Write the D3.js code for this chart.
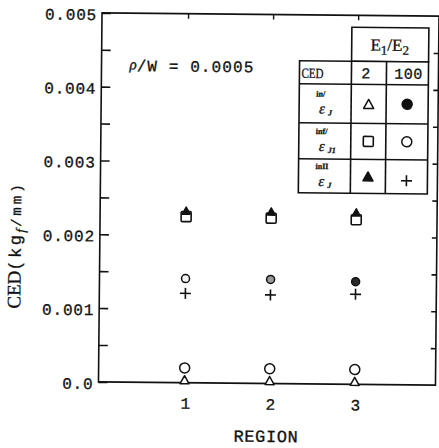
<!DOCTYPE html>
<html>
<head>
<meta charset="utf-8">
<script src="https://cdn.jsdelivr.net/npm/d3@7"></script>
<style>
  html, body { margin: 0; padding: 0; background: #fff; }
  svg { display: block; }
  .mono { font-family: "Liberation Mono", "DejaVu Sans Mono", monospace; }
  .serif { font-family: "Liberation Serif", "DejaVu Serif", serif; }
  text { fill: #111; stroke: #111; stroke-width: 0.3px; }
</style>
</head>
<body>
<svg id="chart" width="439" height="448"></svg>
<script>
// Crack energy density per region, rho/W = 0.0005
const regions = [1, 2, 3];
const yTickValues = [0, 0.001, 0.002, 0.003, 0.004, 0.005];
const yTickLabels = ["0.0", "0.001", "0.002", "0.003", "0.004", "0.005"];
const ratioLabels = ["2", "100"];

// E1/E2 = 2
const inJ_2 = [0.00004, 0.00004, 0.00004];      // open triangle
const infJ1_2 = [0.00225, 0.00224, 0.00223];    // open square
const inIIJ_2 = [0.00233, 0.00233, 0.00233];    // filled triangle
// E1/E2 = 100
const inJ_100 = [0.00141, 0.00141, 0.00139];    // filled circle
const infJ1_100 = [0.0002, 0.0002, 0.0002];     // open circle
const inIIJ_100 = [0.00121, 0.0012, 0.00122];   // plus

// print density of the filled circles as they came out on paper
const dotShade = ["#f4f4f4", "#9a9a9a", "#2a2a2a"];

const svg = d3.select("#chart");
const W = 439, H = 448;
const plotL = 100, plotR = 437, plotT = 14, plotB = 383;

const root = svg.append("g")
  .attr("transform", `rotate(0.55 ${W / 2} ${H / 2})`);

const x = d3.scaleLinear().domain([0, 3.95]).range([plotL + 1, plotR]);
const y = d3.scaleLinear().domain([0, 0.005]).range([plotB, plotT]);

const ink = "#111";

// frame
root.append("rect")
  .attr("x", plotL).attr("y", plotT)
  .attr("width", plotR - plotL).attr("height", plotB - plotT)
  .attr("fill", "none").attr("stroke", ink).attr("stroke-width", 1.6);

// left axis: ticks every 0.0005 pointing in
const yAxisL = d3.axisRight(y)
  .tickValues(d3.range(0, 0.00501, 0.0005))
  .tickSize(9).tickFormat("");
root.append("g").attr("transform", `translate(${plotL},0)`).call(yAxisL)
  .call(g => g.select(".domain").remove())
  .call(g => g.selectAll("line").attr("stroke", ink).attr("stroke-width", 1.6));

// right axis: short inward ticks
const yAxisR = d3.axisLeft(y)
  .tickValues(d3.range(0.0005, 0.0046, 0.0005))
  .tickSize(5).tickFormat("");
root.append("g").attr("transform", `translate(${plotR},0)`).call(yAxisR)
  .call(g => g.select(".domain").remove())
  .call(g => g.selectAll("line").attr("stroke", ink).attr("stroke-width", 1.6));

// top axis: ticks at each region
const xAxisT = d3.axisBottom(x).tickValues(regions).tickSize(5).tickFormat("");
root.append("g").attr("transform", `translate(0,${plotT})`).call(xAxisT)
  .call(g => g.select(".domain").remove())
  .call(g => g.selectAll("line").attr("stroke", ink).attr("stroke-width", 1.4));

// y tick labels
root.append("g").selectAll("text").data(yTickValues).join("text")
  .attr("class", "mono")
  .attr("x", plotL - 5).attr("y", d => y(d) + 3)
  .attr("text-anchor", "end").attr("dominant-baseline", "middle")
  .attr("font-size", 16).attr("letter-spacing", 0.8)
  .text((d, i) => yTickLabels[i]);

// x tick labels
root.append("g").selectAll("text").data(regions).join("text")
  .attr("class", "mono")
  .attr("x", d => x(d) + 1).attr("y", plotB + 22)
  .attr("text-anchor", "middle").attr("dominant-baseline", "middle")
  .attr("font-size", 16)
  .text(d => d);

// axis titles
root.append("text").attr("class", "mono")
  .attr("x", 268).attr("y", 437)
  .attr("text-anchor", "middle").attr("dominant-baseline", "middle")
  .attr("font-size", 17).attr("letter-spacing", 0.6)
  .text("REGION");

const yTitle = root.append("text")
  .attr("transform", "translate(21,247) rotate(-90)")
  .attr("text-anchor", "middle");
yTitle.append("tspan").attr("class", "serif").attr("font-size", 19).text("CED");
yTitle.append("tspan").attr("class", "mono").attr("font-size", 17)
  .attr("letter-spacing", 2.5).text("(kg");
yTitle.append("tspan").attr("class", "serif").attr("font-style", "italic")
  .attr("font-size", 13).attr("dy", 4).text("f");
yTitle.append("tspan").attr("class", "mono").attr("font-size", 14)
  .attr("letter-spacing", 3).attr("dx", 2).attr("dy", -4).text("/mm)");

// annotation
const note = root.append("text").attr("x", 128).attr("y", 72);
note.append("tspan").attr("class", "serif").attr("font-style", "italic")
  .attr("font-size", 15).attr("dy", -2).text("ρ");
note.append("tspan").attr("class", "mono").attr("font-size", 16)
  .attr("letter-spacing", 1.1).attr("dy", 2).text("/W = 0.0005");

// marker painters
function triangle(g, cx, cy, s, filled) {
  const h = s * 0.9;
  g.append("path")
    .attr("d", `M${cx},${cy - h / 2}L${cx + s / 2},${cy + h / 2}L${cx - s / 2},${cy + h / 2}Z`)
    .attr("fill", filled ? ink : "#fff").attr("stroke", ink).attr("stroke-width", 1.5)
    .attr("stroke-linejoin", "round");
}
function square(g, cx, cy, s) {
  g.append("rect").attr("x", cx - s / 2).attr("y", cy - s / 2)
    .attr("width", s).attr("height", s).attr("rx", 1)
    .attr("fill", "#fff").attr("stroke", ink).attr("stroke-width", 1.6);
}
function circle(g, cx, cy, r, fill) {
  g.append("circle").attr("cx", cx).attr("cy", cy).attr("r", r)
    .attr("fill", fill).attr("stroke", ink).attr("stroke-width", 1.5);
}
function plus(g, cx, cy, s) {
  g.append("path")
    .attr("d", `M${cx - s / 2},${cy}H${cx + s / 2}M${cx},${cy - s / 2}V${cy + s / 2}`)
    .attr("stroke", ink).attr("stroke-width", 1.6).attr("fill", "none");
}

// data marks
const marks = root.append("g");
regions.forEach((r, i) => {
  const cx = x(r);
  square(marks, cx, y(infJ1_2[i]), 10);
  triangle(marks, cx, y(inIIJ_2[i]), 8, true);
  plus(marks, cx, y(inIIJ_100[i]), 11);
  circle(marks, cx, y(inJ_100[i]), 4, dotShade[i]);
  circle(marks, cx, y(infJ1_100[i]), 5, "#fff");
  triangle(marks, cx, y(inJ_2[i]), 9, false);
});

// legend table
const leg = root.append("g");
const colX = [298, 350, 385, 427];
const rowY = [60, 83, 122, 158, 192];
leg.append("rect").attr("x", colX[1]).attr("y", 26)
  .attr("width", colX[3] - colX[1]).attr("height", rowY[0] - 26)
  .attr("fill", "#fff").attr("stroke", ink).attr("stroke-width", 1.6);
leg.append("rect").attr("x", colX[0]).attr("y", rowY[0])
  .attr("width", colX[3] - colX[0]).attr("height", rowY[4] - rowY[0])
  .attr("fill", "#fff").attr("stroke", ink).attr("stroke-width", 1.6);
colX.slice(1, 3).forEach(cx => leg.append("line")
  .attr("x1", cx).attr("x2", cx).attr("y1", rowY[0]).attr("y2", rowY[4])
  .attr("stroke", ink).attr("stroke-width", 1.6));
rowY.slice(1, 4).forEach(yy => leg.append("line")
  .attr("x1", colX[0]).attr("x2", colX[3]).attr("y1", yy).attr("y2", yy)
  .attr("stroke", ink).attr("stroke-width", 1.6));

const eh = leg.append("text").attr("class", "serif").attr("x", 388).attr("y", 49)
  .attr("text-anchor", "middle").attr("font-size", 17);
eh.append("tspan").text("E");
eh.append("tspan").attr("font-size", 13).attr("dy", 4).text("1");
eh.append("tspan").attr("dy", -4).text("/E");
eh.append("tspan").attr("font-size", 13).attr("dy", 4).text("2");

leg.append("text").attr("class", "serif").attr("x", 300).attr("y", 77)
  .attr("font-size", 14).attr("textLength", 22).attr("lengthAdjust", "spacingAndGlyphs")
  .text("CED");
leg.selectAll(".ratio").data(ratioLabels).join("text")
  .attr("class", "mono ratio")
  .attr("x", (d, i) => (colX[i + 1] + colX[i + 2]) / 2 + (i ? 1 : -3))
  .attr("y", 77).attr("text-anchor", "middle")
  .attr("font-size", 15).attr("letter-spacing", 0.5)
  .text(d => d);

// row labels: strain-energy components
const rowSup = ["in/", "inf/", "inII"];
const rowSub = ["J", "J1", "J"];
const rowMid = i => (rowY[i + 1] + rowY[i + 2]) / 2;
rowSup.forEach((sup, i) => {
  const cy = rowMid(i);
  leg.append("text").attr("class", "serif").attr("x", 318).attr("y", cy + 10)
    .attr("font-style", "italic").attr("font-size", 15).text("ε");
  leg.append("text").attr("class", "serif").attr("x", 315).attr("y", cy - 7)
    .attr("font-size", 8).attr("font-weight", "bold").text(sup);
  leg.append("text").attr("class", "serif").attr("x", 327).attr("y", cy + 12)
    .attr("font-style", "italic").attr("font-size", 8).attr("font-weight", "bold").text(rowSub[i]);
});

// legend symbols
const c2 = (colX[1] + colX[2]) / 2, c100 = (colX[2] + colX[3]) / 2;
triangle(leg, c2, rowMid(0), 10, false);
circle(leg, c100, rowMid(0), 5, ink);
square(leg, c2, rowMid(1), 10);
circle(leg, c100, rowMid(1), 5, "#fff");
triangle(leg, c2, rowMid(2), 10, true);
plus(leg, c100, rowMid(2) + 4, 11);
</script>
</body>
</html>
